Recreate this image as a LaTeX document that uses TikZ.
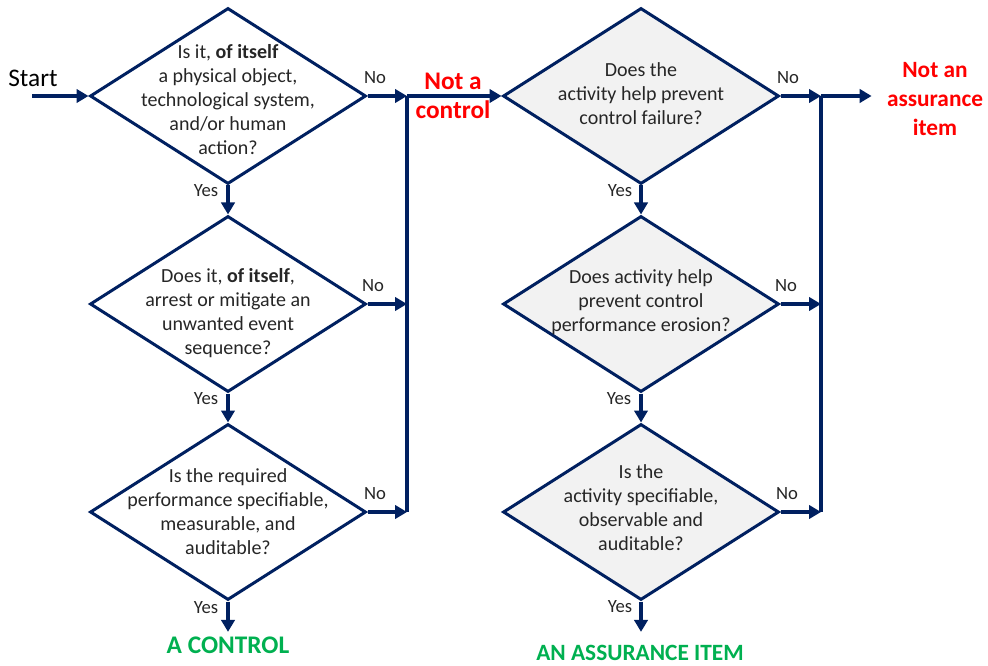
\documentclass[tikz,border=0pt]{standalone}
\usepackage{fontspec}
\setmainfont{Carlito}
\usepackage{xcolor}
\usepackage{tikz}
\usetikzlibrary{shapes.geometric,arrows.meta}
\definecolor{navy}{HTML}{002060}
\definecolor{notred}{HTML}{FF0000}
\definecolor{okgreen}{HTML}{00B050}

\begin{document}
\begin{tikzpicture}[x=0.75pt, y=-0.75pt,
    decision/.style={diamond, draw=navy, line width=2.25pt, minimum width=207pt, minimum height=132pt, inner sep=0pt},
    activity/.style={decision, fill=black!5},
    qtext/.style={align=center, font=\fontsize{15}{18}\selectfont, text=black!85},
    flow/.style={draw=navy, line width=3pt, -{Triangle[length=9pt,width=10pt]}},
    bus/.style={draw=navy, line width=3pt},
    yn/.style={font=\fontsize{14}{16}\selectfont, text=black!85},
    fail/.style={align=center, font=\bfseries\fontsize{19}{22}\selectfont, text=notred},
    pass/.style={font=\bfseries\fontsize{19}{22}\selectfont, text=okgreen}]
            \useasboundingbox (0,0) rectangle (988,666);
            % Control questions
            \node[decision, label={[qtext, yshift=-3pt]center:{Is it, \textbf{of itself}\\a physical object,\\technological system,\\and/or human\\action?}}] (q1) at (228,96) {};
            \node[decision, label={[qtext, yshift=-6.5pt]center:{Does it, \textbf{of itself},\\arrest or mitigate an\\unwanted event\\sequence?}}] (q2) at (228,304) {};
            \node[decision, label={[qtext]center:{Is the required\\performance specifiable,\\measurable, and\\auditable?}}] (q3) at (228,512) {};
            % Assurance questions
            \node[activity, label={[qtext, yshift=2pt]center:{Does the\\activity help prevent\\control failure?}}] (a1) at (641,96) {};
            \node[activity, label={[qtext, yshift=1pt]center:{Does activity help\\prevent control\\performance erosion?}}] (a2) at (641,304) {};
            \node[activity, label={[qtext, yshift=3.5pt]center:{Is the\\activity specifiable,\\observable and\\auditable?}}] (a3) at (641,512) {};
            % Start
            \node[font=\fontsize{19}{22}\selectfont] (start) at (33,78) {Start};
            \coordinate (entry) at (32,96);
            \draw[flow] (entry) -- (q1.west);
            % Outcomes
            \node[fail] (notctrl) at (453,96) {Not a\\control};
            \node[fail, font=\bfseries\fontsize{17.5}{21.5}\selectfont] (notassur) at (935,99) {Not an\\assurance\\item};
            \node[pass] (isctrl) at (228,645) {A CONTROL};
            \node[pass, font=\bfseries\fontsize{17.5}{21}\selectfont] (isassur) at (640,653) {AN ASSURANCE ITEM};
            % No branches
            \coordinate (busL) at (407,96);
            \coordinate (busR) at (821,96);
            \draw[bus] (busL) -- (busL |- q3.east);
            \draw[bus] (busR) -- (busR |- a3.east);
            \draw[flow] (q1.east) -- (q1.east -| busL);
            \draw[flow] (q2.east) -- (q2.east -| busL);
            \draw[flow] (q3.east) -- (q3.east -| busL);
            \draw[flow] (busL) -- (a1.west);
            \draw[flow] (a1.east) -- (a1.east -| busR);
            \draw[flow] (a2.east) -- (a2.east -| busR);
            \draw[flow] (a3.east) -- (a3.east -| busR);
            \draw[flow, shorten >=8pt] (busR) -- (busR -| notassur.west);
            \node[yn] (no1) at (375,78) {No};
            \node[yn] (no2) at (373,286) {No};
            \node[yn] (no3) at (375,494) {No};
            \node[yn] (no4) at (788,78) {No};
            \node[yn] (no5) at (786,286) {No};
            \node[yn] (no6) at (787,494) {No};
            % Yes branches
            \draw[flow] (q1.south) -- (q2.north);
            \draw[flow] (q2.south) -- (q3.north);
            \draw[flow] (q3.south) -- (isctrl.north);
            \draw[flow] (a1.south) -- (a2.north);
            \draw[flow] (a2.south) -- (a3.north);
            \draw[flow] (a3.south) -- (a3.south |- isctrl.north);
            \node[yn] (yes1) at (206,191) {Yes};
            \node[yn] (yes2) at (206,399) {Yes};
            \node[yn] (yes3) at (206,608) {Yes};
            \node[yn] (yes4) at (620,191) {Yes};
            \node[yn] (yes5) at (619,399) {Yes};
            \node[yn] (yes6) at (620,607) {Yes};
\end{tikzpicture}
\end{document}
